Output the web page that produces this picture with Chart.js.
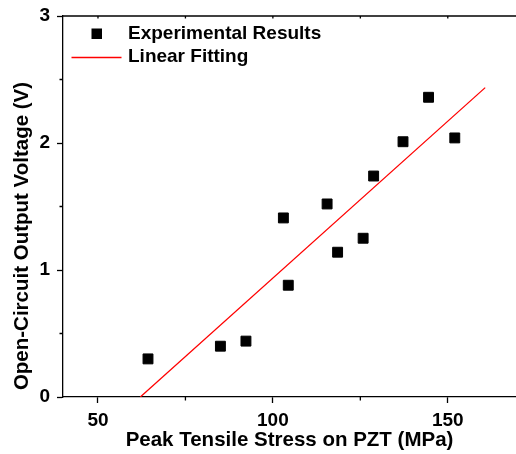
<!DOCTYPE html>
<html>
<head>
<meta charset="utf-8">
<script src="https://cdn.jsdelivr.net/npm/chart.js@4.4.1/dist/chart.umd.min.js"></script>
<style>
  html, body { margin: 0; padding: 0; background: #fff; overflow: hidden; }
  #wrap { position: relative; width: 516px; height: 454px; }
</style>
</head>
<body>
<div id="wrap"><canvas id="c" width="516" height="454"></canvas></div>
<script>
// ---- data ----
const stress = [64.3, 85.0, 92.3, 103.0, 104.4, 115.5, 118.5, 125.8, 128.8, 137.2, 144.5, 152.0];
const voltage = [0.30, 0.40, 0.44, 1.41, 0.88, 1.52, 1.14, 1.25, 1.74, 2.01, 2.36, 2.04];
const fitStress = [62.1, 160.7];
const fitVoltage = [0.0, 2.436];
const xMajorTicks = [50, 100, 150];
const xMinorTicks = [75, 125];
const yMajorTicks = [0, 1, 2, 3];
const yMinorTicks = [0.5, 1.5, 2.5];
const seriesNames = ['Experimental Results', 'Linear Fitting'];
const xTitle = 'Peak Tensile Stress on PZT (MPa)';
const yTitle = 'Open-Circuit Output Voltage (V)';

const FONT = "'Liberation Sans', Arial, sans-serif";

function buildTicks(major, minor) {
  return scale => {
    const all = major.concat(minor).sort((a, b) => a - b);
    scale.ticks = all.map(v => ({ value: v }));
  };
}
const isMajor = (list, v) => list.some(m => Math.abs(m - v) < 1e-9);

const extras = {
  id: 'extras',
  afterDraw(chart) {
    const ctx = chart.ctx;
    const xs = chart.scales.x, ys = chart.scales.y;
    const a = chart.chartArea;
    ctx.save();
    ctx.strokeStyle = '#000';
    ctx.lineWidth = 1.3;
    // top frame line
    ctx.beginPath();
    ctx.moveTo(a.left, a.top);
    ctx.lineTo(a.right, a.top);
    ctx.stroke();
    // minor ticks (outward, short)
    ctx.beginPath();
    xMinorTicks.forEach(v => {
      const px = xs.getPixelForValue(v);
      ctx.moveTo(px, a.bottom); ctx.lineTo(px, a.bottom + 3.5);
    });
    yMinorTicks.forEach(v => {
      const py = ys.getPixelForValue(v);
      ctx.moveTo(a.left, py); ctx.lineTo(a.left - 3.5, py);
    });
    // top ticks (inward)
    xMajorTicks.concat(xMinorTicks).forEach(v => {
      const px = xs.getPixelForValue(v);
      ctx.moveTo(px, a.top); ctx.lineTo(px, a.top + 2.5);
    });
    ctx.stroke();

    // y axis title (placed as in the reference, below the axis centre)
    ctx.fillStyle = '#000';
    ctx.font = 'bold 20.5px ' + FONT;
    ctx.textAlign = 'center';
    ctx.textBaseline = 'middle';
    ctx.save();
    ctx.translate(22, 236);
    ctx.rotate(-Math.PI / 2);
    ctx.fillText(yTitle, 0, 0);
    ctx.restore();

    // legend
    const ds0 = chart.data.datasets[0], ds1 = chart.data.datasets[1];
    ctx.fillStyle = ds0.backgroundColor;
    ctx.fillRect(91.5, 28.5, 10.5, 10.5);
    ctx.strokeStyle = ds1.borderColor;
    ctx.lineWidth = 1.3;
    ctx.beginPath();
    ctx.moveTo(71.5, 57.5); ctx.lineTo(121.5, 57.5);
    ctx.stroke();
    ctx.fillStyle = '#000';
    ctx.font = 'bold 19px ' + FONT;
    ctx.textBaseline = 'middle';
    ctx.textAlign = 'left';
    ctx.fillText(ds0.label, 128, 34);
    ctx.fillText(ds1.label, 128, 57);
    ctx.restore();
  }
};

new Chart(document.getElementById('c'), {
  type: 'scatter',
  data: {
    datasets: [
      {
        label: seriesNames[0],
        data: stress.map((x, i) => ({ x, y: voltage[i] })),
        pointStyle: 'rect',
        pointRadius: 7,
        pointHoverRadius: 7,
        backgroundColor: '#000',
        borderColor: '#000',
        borderWidth: 1,
        order: 1
      },
      {
        label: seriesNames[1],
        data: fitStress.map((x, i) => ({ x, y: fitVoltage[i] })),
        showLine: true,
        borderColor: '#ff0000',
        backgroundColor: '#ff0000',
        borderWidth: 1.3,
        pointRadius: 0,
        order: 2
      }
    ]
  },
  options: {
    responsive: false,
    animation: false,
    devicePixelRatio: 1,
    layout: { autoPadding: false, padding: { top: 16, right: 0, left: 0, bottom: 0 } },
    plugins: { legend: { display: false }, tooltip: { enabled: false } },
    scales: {
      x: {
        type: 'linear',
        min: 40, max: 169.5,
        afterBuildTicks: buildTicks(xMajorTicks, xMinorTicks),
        afterFit: s => { s.height = 57; s.paddingLeft = 0; s.paddingRight = 0; },
        border: { color: '#000', width: 1.3 },
        grid: {
          drawOnChartArea: false, drawTicks: true, tickLength: 6, tickWidth: 1.3,
          tickColor: c => (c.tick && isMajor(xMajorTicks, c.tick.value)) ? '#000' : 'rgba(0,0,0,0)'
        },
        ticks: {
          padding: 6, color: '#000', maxRotation: 0, autoSkip: false,
          font: { family: FONT, size: 19, weight: 'bold' },
          callback: v => isMajor(xMajorTicks, v) ? String(v) : ''
        },
        title: {
          display: true, text: xTitle, color: '#000',
          font: { family: FONT, size: 20.5, weight: 'bold' },
          padding: { top: 0, bottom: 1 }
        }
      },
      y: {
        type: 'linear',
        min: 0, max: 3,
        afterBuildTicks: buildTicks(yMajorTicks, yMinorTicks),
        afterFit: s => { s.width = 63; s.paddingTop = 0; s.paddingBottom = 0; },
        border: { color: '#000', width: 1.3 },
        grid: {
          drawOnChartArea: false, drawTicks: true, tickLength: 6, tickWidth: 1.3,
          tickColor: c => (c.tick && isMajor(yMajorTicks, c.tick.value)) ? '#000' : 'rgba(0,0,0,0)'
        },
        ticks: {
          padding: 7, color: '#000', autoSkip: false,
          font: { family: FONT, size: 19, weight: 'bold' },
          callback: v => isMajor(yMajorTicks, v) ? String(v) : ''
        },
        title: { display: false }
      }
    }
  },
  plugins: [extras]
});
</script>
</body>
</html>
